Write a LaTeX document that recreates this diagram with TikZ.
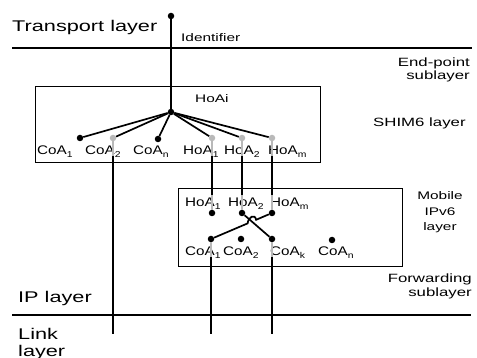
\documentclass[tikz,border=0pt]{standalone}
\usepackage{fontspec}
\setmainfont{Liberation Sans}[FakeStretch=1.4]
\newfontfamily\lblfont{Liberation Sans}[FakeStretch=1.22]
\usetikzlibrary{calc}
\newcommand{\sbs}[1]{\raisebox{-2.5pt}{\fontsize{8.5}{9}\selectfont #1}}
\begin{document}
\begin{tikzpicture}[x=1pt,y=-1pt,
  dot/.style={circle,fill=black,inner sep=0pt,minimum size=6.5pt},
  gdot/.style={dot,fill=gray!55},
  lay/.style={line width=1.3pt},
  fan/.style={line width=1.7pt},
  ghost/.style={gray!55,line width=1.3pt},
  box/.style={draw,line width=1.3pt,inner sep=0pt},
  big/.style={font=\fontsize{15.5}{18}\selectfont,inner sep=0pt},
  side/.style={font=\fontsize{12}{14}\selectfont,inner sep=0pt},
  mob/.style={font=\fontsize{11}{13}\selectfont,inner sep=0pt},
  lbl/.style={font=\lblfont\fontsize{12.5}{14}\selectfont,inner sep=0pt},
  small/.style={font=\fontsize{11}{13}\selectfont,inner sep=0pt},
  tiny/.style={font=\fontsize{11}{12}\selectfont,inner sep=0pt}]
\useasboundingbox (0,0) rectangle (477,358);

% layer separators
\coordinate (s1a) at (12,48);  \coordinate (s1b) at (472,48);
\coordinate (s2a) at (12,315); \coordinate (s2b) at (471,315);
\draw[lay] (s1a) -- (s1b);
\draw[lay] (s2a) -- (s2b);

% boxes
\node[box,minimum width=285pt,minimum height=76pt,anchor=north west] (shim) at (35,86) {};
\node[box,minimum width=224pt,minimum height=78pt,anchor=north west] (mip) at (178,188) {};

% layer texts
\node[big,anchor=base west] (tl) at (12,32) {Transport layer};
\node[big,anchor=base west] (ipl) at (18,303) {IP layer};
\node[big,anchor=base west] (lk1) at (18,340) {Link};
\node[big,anchor=base west] (lk2) at (18,356) {layer};
\node[side,anchor=base east] (ep1) at (470,67) {End-point};
\node[side,anchor=base east] (ep2) at (470,80) {sublayer};
\node[side,anchor=base west] (shl) at (373,127) {SHIM6 layer};
\node[mob,anchor=base] (mb1) at (440,200) {Mobile};
\node[mob,anchor=base] (mb2) at (440,216) {IPv6};
\node[mob,anchor=base] (mb3) at (440,231) {layer};
\node[side,anchor=base east] (fw1) at (472,283) {Forwarding};
\node[side,anchor=base east] (fw2) at (472,297) {sublayer};
\node[small,anchor=base west] (idf) at (181,42) {Identifier};
\node[tiny,anchor=base west] (hoai) at (195,103) {HoAi};

% SHIM6 dots
\node[dot] (top) at (171,16) {};
\node[dot] (hub) at (171,112) {};
\node[dot] (c1) at (80,138) {};
\node[gdot] (c2) at (113,138) {};
\node[dot] (cn) at (158,139) {};
\node[gdot] (h1) at (212,138) {};
\node[gdot] (h2) at (242,138) {};
\node[gdot] (hm) at (272,138) {};

% SHIM6 labels
\node[lbl,anchor=base west] at (37,155) {CoA\sbs{1}};
\node[lbl,anchor=base west] at (85,155) {CoA\sbs{2}};
\node[lbl,anchor=base west] at (133,155) {CoA\sbs{n}};
\node[lbl,anchor=base west] at (183,155) {HoA\sbs{1}};
\node[lbl,anchor=base west] at (224,155) {HoA\sbs{2}};
\node[lbl,anchor=base west] at (268,155) {HoA\sbs{m}};

\draw[lay] (top) -- (hub);
\foreach \n in {c1,c2,cn,h1,h2,hm} \draw[fan] (hub) -- (\n);

% Mobile IPv6 dots
\node[dot] (mh1) at (212,213) {};
\node[dot] (mh2) at (242,213) {};
\node[dot] (mhm) at (272,213) {};
\node[dot] (mc1) at (211,239) {};
\node[dot] (mc2) at (241,239) {};
\node[dot] (mck) at (272,239) {};
\node[dot] (mcn) at (332,240) {};

% Mobile IPv6 labels
\node[lbl,anchor=base west] at (185,207) {HoA\sbs{1}};
\node[lbl,anchor=base west] at (228,207) {HoA\sbs{2}};
\node[lbl,anchor=base west] at (270,207) {HoA\sbs{m}};
\node[lbl,anchor=base west] at (185,256) {CoA\sbs{1}};
\node[lbl,anchor=base west] at (223,256) {CoA\sbs{2}};
\node[lbl,anchor=base west] at (270,256) {CoA\sbs{k}};
\node[lbl,anchor=base west] at (318,256) {CoA\sbs{n}};

% vertical links
\coordinate (c2m) at (113,156); \coordinate (c2b) at (113,334);
\draw[ghost] (c2) -- (c2m); \draw[lay] (c2m) -- (c2b);
\foreach \n/\x in {h1/212,h2/242,hm/272}{
  \coordinate (\n m) at (\x,156);
  \coordinate (\n t) at (\x,195);
  \draw[ghost] (\n) -- (\n m);
  \draw[lay] (\n m) -- (\n t);
}
\draw[ghost] (h1t) -- (mh1);
\draw[ghost] (h2t) -- (mh2);
\draw[ghost] (hmt) -- (mhm);
\coordinate (mc1m) at (211,257); \coordinate (mc1b) at (211,334);
\coordinate (mckm) at (272,257); \coordinate (mckb) at (272,334);
\draw[ghost] (mc1) -- (mc1m); \draw[lay] (mc1m) -- (mc1b);
\draw[ghost] (mck) -- (mckm); \draw[lay] (mckm) -- (mckb);

% crossing bindings
\coordinate (hopa) at (256.1,219.8);
\coordinate (hopb) at (247.6,223.4);
\draw[fan] (mh2) -- (mck);
\draw[fan] (mhm) -- (hopa) .. controls (255,213.5) and (248.5,216.5) .. (hopb) -- (mc1);
\end{tikzpicture}
\end{document}
